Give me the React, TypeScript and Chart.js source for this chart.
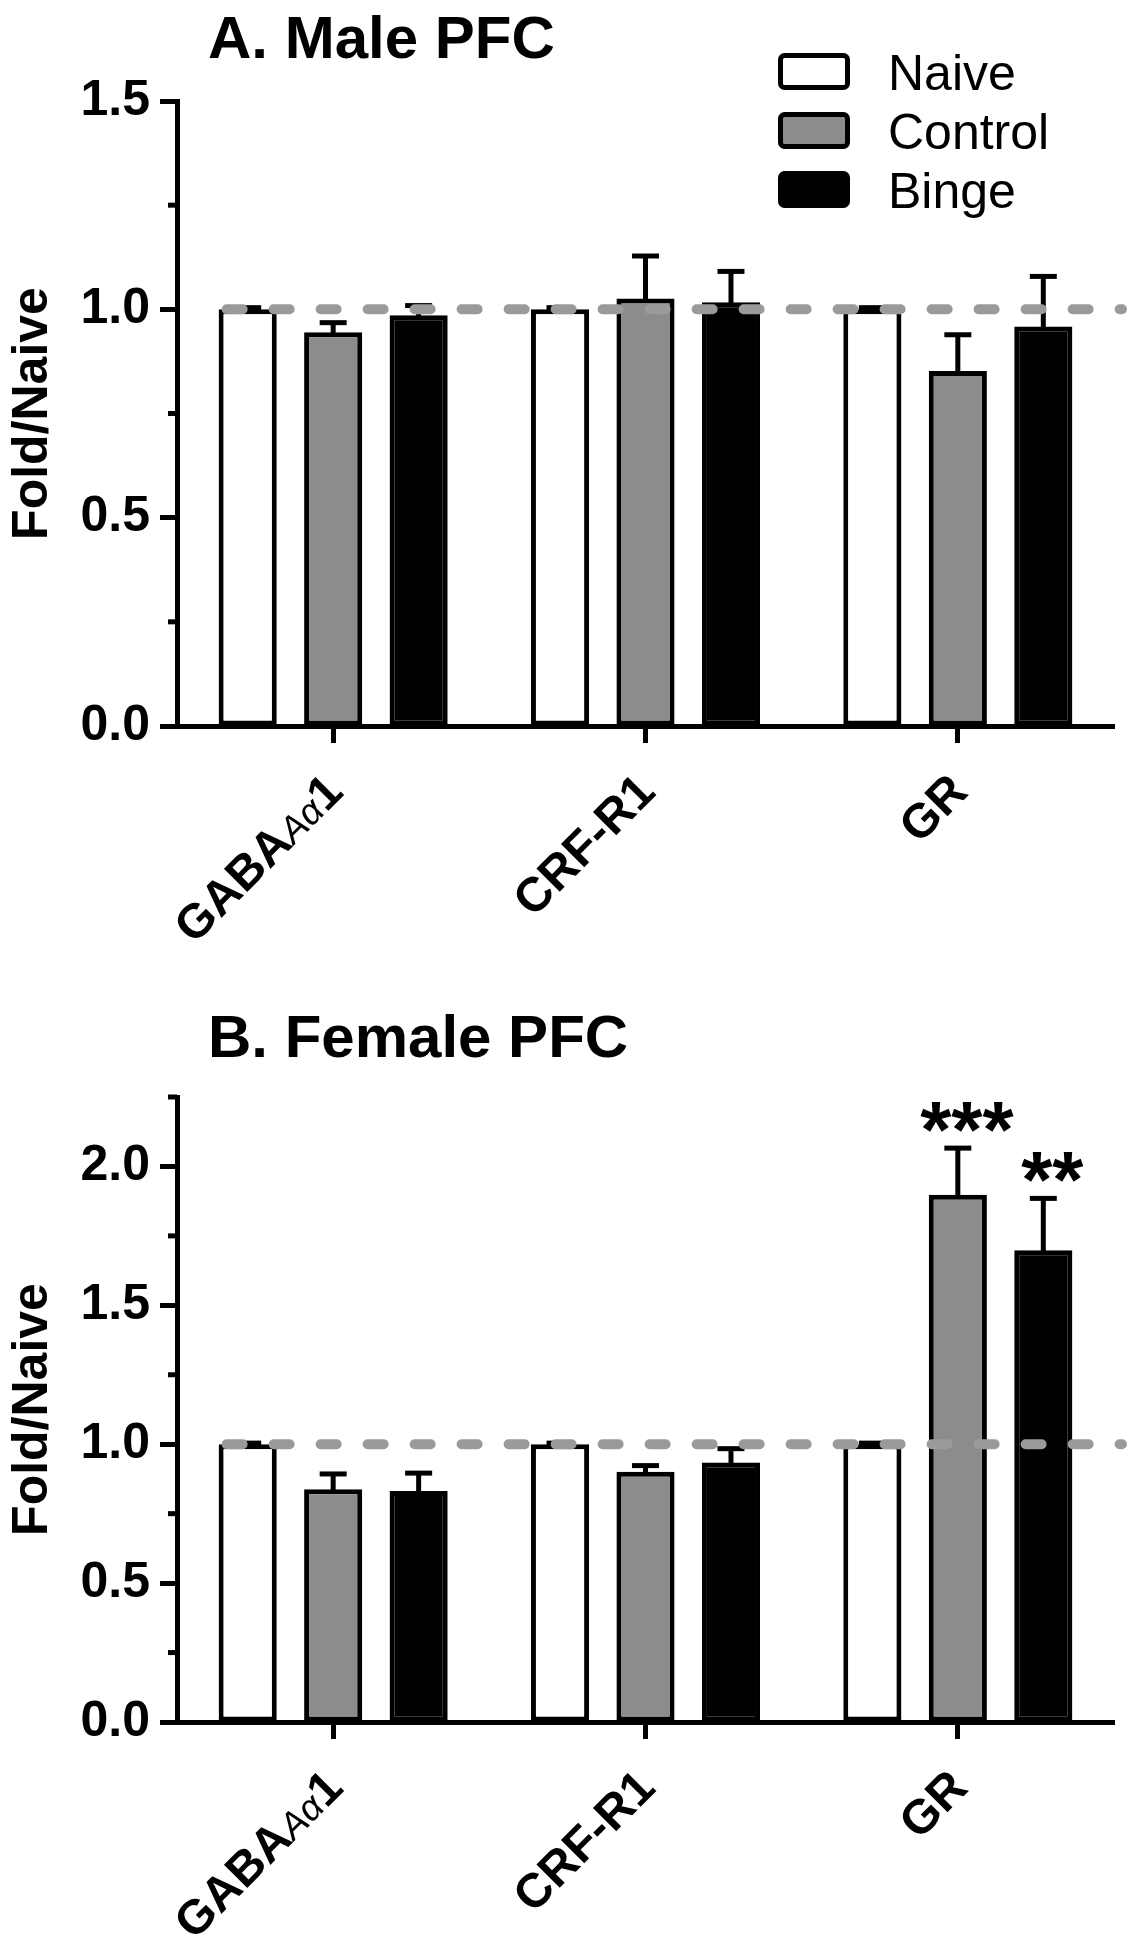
import React, { useEffect, useRef } from 'react';
import { Chart, registerables } from 'chart.js';

Chart.register(...registerables);

// ---------- DATA ----------
const categoryMain = ['GABA', 'CRF-R1', 'GR'];
const categorySub = ['Aα', '', ''];
const categorySuffix = ['1', '', ''];
const seriesNames = ['Naive', 'Control', 'Binge'];

const maleNaive = [1.0, 1.0, 1.0];
const maleNaiveErr = [0.004, 0.004, 0.004];
const maleControl = [0.945, 1.026, 0.852];
const maleControlErr = [0.023, 0.102, 0.087];
const maleBinge = [0.986, 1.017, 0.959];
const maleBingeErr = [0.023, 0.074, 0.12];

const femaleNaive = [1.0, 1.0, 1.0];
const femaleNaiveErr = [0.004, 0.004, 0.004];
const femaleControl = [0.838, 0.901, 1.898];
const femaleControlErr = [0.055, 0.022, 0.168];
const femaleBinge = [0.832, 0.934, 1.698];
const femaleBingeErr = [0.064, 0.05, 0.187];
const femaleControlSig = ['', '', '***'];
const femaleBingeSig = ['', '', '**'];

const maleMax = 1.5;
const femaleMax = 2.25;
const maleTicks = [0, 0.5, 1.0, 1.5];
const maleMinorTicks = [0.25, 0.75, 1.25];
const femaleTicks = [0, 0.5, 1.0, 1.5, 2.0];
const femaleMinorTicks = [0.25, 0.75, 1.25, 1.75, 2.25];
const referenceLevel = 1.0;

const titleA = 'A. Male PFC';
const titleB = 'B. Female PFC';
const yTitle = 'Fold/Naive';

// ---------- STYLE ----------
const FONT = '"Liberation Sans", Arial, Helvetica, sans-serif';
const fillColors = ['#ffffff', '#8c8c8c', '#000000'];

type PanelCfg = {
  height: number;
  top: number;
  bottom: number;
  max: number;
  ticks: number[];
  minor: number[];
  title: string;
  titleBaseline: number;
  legend: boolean;
  values: number[][];
  errors: number[][];
  sig: string[][];
};

const panelPlugin = {
  id: 'panelExtras',
  afterDatasetsDraw(chart: any) {
    const { ctx, chartArea } = chart;
    const ys = chart.scales.y;

    // error bars + significance marks
    chart.data.datasets.forEach((ds: any, di: number) => {
      const meta = chart.getDatasetMeta(di);
      meta.data.forEach((el: any, i: number) => {
        const v = ds.data[i];
        const e = ds.errors[i];
        const yTop = ys.getPixelForValue(v + e);
        ctx.save();
        ctx.strokeStyle = '#000';
        ctx.lineWidth = 5;
        ctx.lineCap = 'butt';
        ctx.beginPath();
        ctx.moveTo(el.x, el.y + 2);
        ctx.lineTo(el.x, yTop);
        ctx.stroke();
        ctx.beginPath();
        ctx.moveTo(el.x - 13.5, yTop);
        ctx.lineTo(el.x + 13.5, yTop);
        ctx.stroke();
        ctx.restore();

        const s = ds.sig ? ds.sig[i] : '';
        if (s) {
          ctx.save();
          ctx.font = `bold 80px ${FONT}`;
          ctx.fillStyle = '#000';
          ctx.textAlign = 'center';
          ctx.textBaseline = 'alphabetic';
          const m = ctx.measureText(s);
          const target = yTop - 31;
          const base = target - (m.actualBoundingBoxDescent - m.actualBoundingBoxAscent) / 2;
          ctx.fillText(s, el.x + 9, base);
          ctx.restore();
        }
      });
    });

    // dashed reference line
    const first = chart.getDatasetMeta(0).data[0] as any;
    const yRef = ys.getPixelForValue(referenceLevel);
    ctx.save();
    ctx.strokeStyle = '#9a9a9a';
    ctx.lineWidth = 10;
    ctx.lineCap = 'round';
    ctx.setLineDash([16, 31]);
    ctx.beginPath();
    ctx.moveTo(first.x - first.width / 2 + 8, yRef);
    ctx.lineTo(chartArea.right + 8, yRef);
    ctx.stroke();
    ctx.restore();
  },
  afterDraw(chart: any) {
    const cfg: PanelCfg = chart.options.plugins.panelExtras.cfg;
    const { ctx, chartArea } = chart;
    const ys = chart.scales.y;
    const xs = chart.scales.x;

    // minor ticks
    ctx.save();
    ctx.strokeStyle = '#000';
    ctx.lineWidth = 5;
    cfg.minor.forEach((v) => {
      const y = ys.getPixelForValue(v);
      ctx.beginPath();
      ctx.moveTo(chartArea.left - 9, y);
      ctx.lineTo(chartArea.left, y);
      ctx.stroke();
    });
    ctx.restore();

    // x labels (rotated, mixed fonts)
    categoryMain.forEach((main, i) => {
      const parts = [
        { t: main, f: `bold 48px ${FONT}` },
        { t: categorySub[i], f: `italic 37px ${FONT}` },
        { t: categorySuffix[i], f: `bold 48px ${FONT}` },
      ].filter((p) => p.t);
      const x = xs.getPixelForValue(i);
      ctx.save();
      ctx.translate(x + 12, chartArea.bottom + 68);
      ctx.rotate(-Math.PI / 4);
      ctx.fillStyle = '#000';
      ctx.textAlign = 'left';
      ctx.textBaseline = 'alphabetic';
      let total = 0;
      parts.forEach((p) => {
        ctx.font = p.f;
        total += ctx.measureText(p.t).width;
      });
      let cx = -total;
      parts.forEach((p) => {
        ctx.font = p.f;
        ctx.fillText(p.t, cx, 0);
        cx += ctx.measureText(p.t).width;
      });
      ctx.restore();
    });

    // panel title
    ctx.save();
    ctx.font = `bold 60px ${FONT}`;
    ctx.fillStyle = '#000';
    ctx.textAlign = 'left';
    ctx.textBaseline = 'alphabetic';
    ctx.fillText(cfg.title, 208, cfg.titleBaseline);
    ctx.restore();

    // legend
    if (cfg.legend) {
      chart.data.datasets.forEach((ds: any, di: number) => {
        const cy = 71.5 + di * 59;
        ctx.save();
        ctx.fillStyle = ds.backgroundColor;
        ctx.strokeStyle = '#000';
        ctx.lineWidth = 5;
        ctx.beginPath();
        (ctx as any).roundRect(780.5, cy - 16, 67, 32, 4);
        ctx.fill();
        ctx.stroke();
        ctx.font = `50px ${FONT}`;
        ctx.fillStyle = '#000';
        ctx.textAlign = 'left';
        ctx.textBaseline = 'alphabetic';
        ctx.fillText(ds.label, 888, cy + 18);
        ctx.restore();
      });
    }
  },
};

function Panel({ cfg }: { cfg: PanelCfg }) {
  const ref = useRef<HTMLCanvasElement | null>(null);
  useEffect(() => {
    if (!ref.current) return;
    const datasets = seriesNames.map((name, k) => ({
      label: name,
      data: cfg.values[k],
      errors: cfg.errors[k],
      sig: cfg.sig[k],
      backgroundColor: fillColors[k],
      borderColor: '#000000',
      borderWidth: 5,
      borderSkipped: false,
      categoryPercentage: 0.821,
      barPercentage: 0.68,
    }));
    const chart = new Chart(ref.current, {
      type: 'bar',
      data: {
        labels: categoryMain.map((m, i) => m + categorySub[i] + categorySuffix[i]),
        datasets: datasets as any,
      },
      options: {
        responsive: false,
        animation: false,
        devicePixelRatio: 1,
        layout: { padding: { top: cfg.top, right: 30, left: 0, bottom: 0 } },
        plugins: {
          legend: { display: false },
          tooltip: { enabled: false },
          title: { display: false },
          panelExtras: { cfg },
        } as any,
        scales: {
          x: {
            type: 'category',
            offset: true,
            afterFit: (s: any) => {
              s.height = cfg.height - cfg.bottom;
            },
            ticks: { display: false },
            grid: {
              offset: false,
              drawOnChartArea: false,
              drawTicks: true,
              tickLength: 17,
              tickWidth: 5,
              tickColor: '#000',
              color: '#000',
            },
            border: { display: true, width: 5, color: '#000' },
          },
          y: {
            type: 'linear',
            min: 0,
            max: cfg.max,
            afterFit: (s: any) => {
              s.width = 177;
            },
            afterBuildTicks: (s: any) => {
              s.ticks = cfg.ticks.map((v) => ({ value: v }));
            },
            ticks: {
              color: '#000',
              padding: 10,
              font: { family: FONT, size: 50, weight: 'bold' },
              callback: (v: any) => Number(v).toFixed(1),
            },
            grid: {
              drawOnChartArea: false,
              drawTicks: true,
              tickLength: 17,
              tickWidth: 5,
              tickColor: '#000',
              color: '#000',
            },
            border: { display: true, width: 5, color: '#000' },
            title: {
              display: true,
              text: yTitle,
              color: '#000',
              font: { family: FONT, size: 50, weight: 'bold' },
              padding: { top: 3, bottom: 0 },
            },
          },
        },
      },
      plugins: [panelPlugin as any],
    });
    return () => chart.destroy();
  }, [cfg]);
  return <canvas ref={ref} width={1144} height={cfg.height} style={{ display: 'block', width: 1144, height: cfg.height }} />;
}

const maleCfg: PanelCfg = {
  height: 998,
  top: 101,
  bottom: 726,
  max: maleMax,
  ticks: maleTicks,
  minor: maleMinorTicks,
  title: titleA,
  titleBaseline: 58,
  legend: true,
  values: [maleNaive, maleControl, maleBinge],
  errors: [maleNaiveErr, maleControlErr, maleBingeErr],
  sig: [['', '', ''], ['', '', ''], ['', '', '']],
};

const femaleCfg: PanelCfg = {
  height: 952,
  top: 99,
  bottom: 724,
  max: femaleMax,
  ticks: femaleTicks,
  minor: femaleMinorTicks,
  title: titleB,
  titleBaseline: 59,
  legend: false,
  values: [femaleNaive, femaleControl, femaleBinge],
  errors: [femaleNaiveErr, femaleControlErr, femaleBingeErr],
  sig: [['', '', ''], femaleControlSig, femaleBingeSig],
};

export default function App() {
  return (
    <div style={{ position: 'absolute', left: 0, top: 0, width: 1144, height: 1950, background: '#fff' }}>
      <Panel cfg={maleCfg} />
      <Panel cfg={femaleCfg} />
    </div>
  );
}
